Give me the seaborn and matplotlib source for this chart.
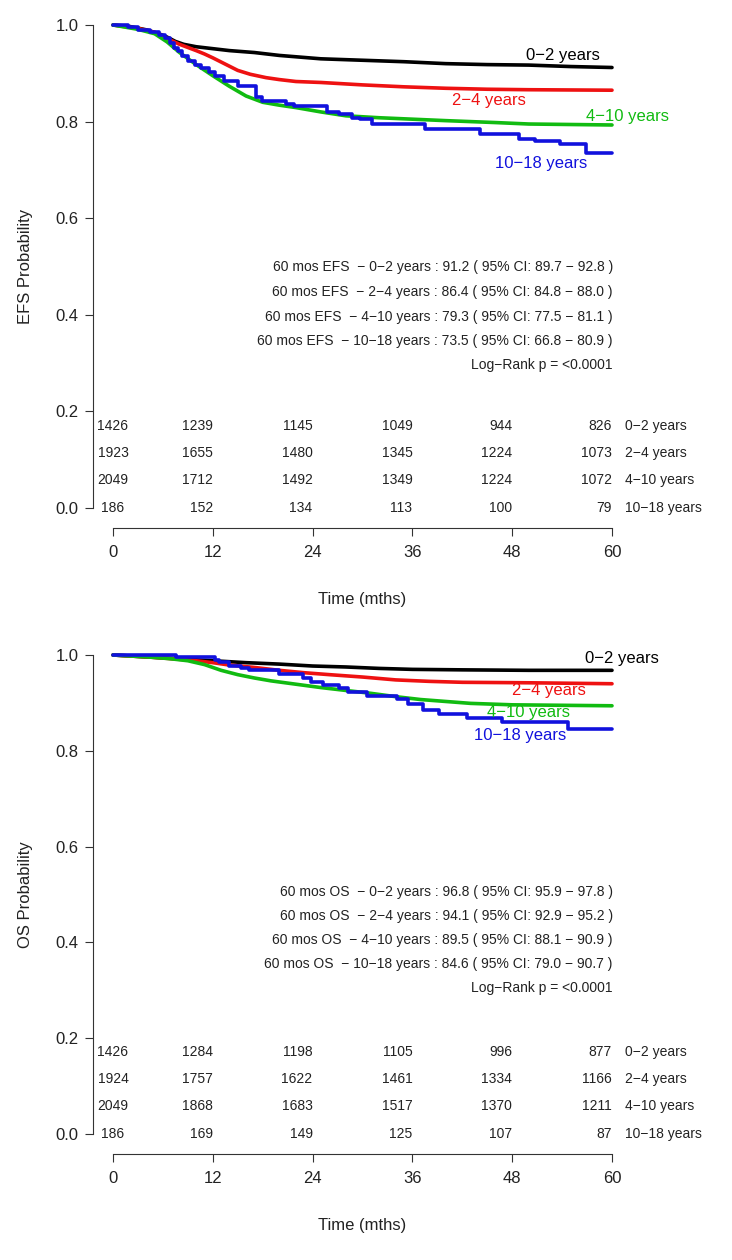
import numpy as np
import pandas as pd
import matplotlib
matplotlib.use("Agg")
import matplotlib.pyplot as plt
import seaborn as sns

# ---------------- data ----------------
groups = ["0−2 years", "2−4 years", "4−10 years", "10−18 years"]
colors = ["#000000", "#ee1111", "#11bb11", "#1111dd"]

# EFS curves (time in months, survival probability)
efs_t_02 = [0, 2, 4, 5.5, 6.5, 7.5, 8.5, 10, 12, 14, 17, 20, 25, 30, 35, 40, 45, 50, 55, 60]
efs_s_02 = [1.0, 0.997, 0.99, 0.982, 0.975, 0.966, 0.96, 0.955, 0.951, 0.947, 0.943, 0.937,
            0.93, 0.927, 0.924, 0.92, 0.918, 0.917, 0.914, 0.912]
efs_t_24 = [0, 3, 5, 6.5, 8, 10, 11, 12, 13.5, 15, 16.5, 18.4, 20, 22, 25, 30, 35, 40, 45, 50, 60]
efs_s_24 = [1.0, 0.993, 0.985, 0.972, 0.96, 0.947, 0.94, 0.932, 0.919, 0.906, 0.898, 0.891,
            0.887, 0.883, 0.881, 0.876, 0.872, 0.869, 0.867, 0.866, 0.865]
efs_t_410 = [0, 3, 5, 6.5, 8, 10, 12, 14, 16, 18, 20, 22, 25, 28, 32, 36, 40, 46, 50, 60]
efs_s_410 = [1.0, 0.991, 0.982, 0.965, 0.943, 0.918, 0.895, 0.873, 0.853, 0.84, 0.834, 0.829,
             0.82, 0.812, 0.808, 0.805, 0.802, 0.798, 0.795, 0.793]
efs_t_1018 = [0, 1.8, 3.0, 4.5, 5.5, 6.2, 6.8, 7.3, 7.8, 8.3, 9.0, 9.8, 10.6, 11.5, 12.3, 13.3,
              15.0, 17.2, 17.9, 20.8, 21.8, 25.7, 27.2, 28.7, 29.7, 31.1, 37.5, 44.1, 48.8,
              50.7, 53.7, 56.9, 60]
efs_s_1018 = [1.0, 0.995, 0.99, 0.985, 0.979, 0.973, 0.963, 0.952, 0.946, 0.936, 0.926, 0.918,
              0.91, 0.902, 0.895, 0.885, 0.874, 0.85, 0.843, 0.837, 0.833, 0.819, 0.815, 0.808,
              0.805, 0.795, 0.784, 0.774, 0.764, 0.76, 0.753, 0.736, 0.736]

# OS curves
os_t_02 = [0, 5, 8, 12, 16, 20, 24, 28, 32, 36, 42, 50, 60]
os_s_02 = [1.0, 0.995, 0.992, 0.988, 0.984, 0.981, 0.977, 0.975, 0.972, 0.970, 0.969, 0.968, 0.968]
os_t_24 = [0, 5, 8, 10, 12, 14, 17, 20, 23, 26, 30, 34, 38, 42, 50, 60]
os_s_24 = [1.0, 0.995, 0.991, 0.988, 0.984, 0.979, 0.974, 0.968, 0.963, 0.959, 0.954, 0.948,
           0.945, 0.943, 0.942, 0.940]
os_t_410 = [0, 5, 7, 9, 11, 13, 15, 17, 19, 22, 25, 28, 31, 34, 37, 40, 43, 48, 60]
os_s_410 = [1.0, 0.995, 0.992, 0.988, 0.98, 0.968, 0.959, 0.952, 0.946, 0.939, 0.932, 0.926,
            0.92, 0.913, 0.907, 0.903, 0.899, 0.896, 0.894]
os_t_1018 = [0, 7.6, 12.3, 12.8, 14, 15.4, 16.4, 19.9, 22.8, 23.8, 25.2, 27.2, 28.2, 30.6,
             34.1, 35.5, 37.3, 39.2, 42.6, 46.8, 54.7, 60]
os_s_1018 = [1.0, 0.995, 0.989, 0.985, 0.978, 0.972, 0.969, 0.96, 0.951, 0.944, 0.938, 0.932,
             0.923, 0.914, 0.909, 0.897, 0.886, 0.877, 0.869, 0.86, 0.846, 0.846]

# numbers at risk
risk_times = [0, 12, 24, 36, 48, 60]
efs_risk_02 = [1426, 1239, 1145, 1049, 944, 826]
efs_risk_24 = [1923, 1655, 1480, 1345, 1224, 1073]
efs_risk_410 = [2049, 1712, 1492, 1349, 1224, 1072]
efs_risk_1018 = [186, 152, 134, 113, 100, 79]
os_risk_02 = [1426, 1284, 1198, 1105, 996, 877]
os_risk_24 = [1924, 1757, 1622, 1461, 1334, 1166]
os_risk_410 = [2049, 1868, 1683, 1517, 1370, 1211]
os_risk_1018 = [186, 169, 149, 125, 107, 87]

# 60-month estimates
efs_est = [91.2, 86.4, 79.3, 73.5]
efs_lo = [89.7, 84.8, 77.5, 66.8]
efs_hi = [92.8, 88.0, 81.1, 80.9]
os_est = [96.8, 94.1, 89.5, 84.6]
os_lo = [95.9, 92.9, 88.1, 79.0]
os_hi = [97.8, 95.2, 90.9, 90.7]
logrank_text = "Log−Rank p = <0.0001"

# ---------------- style ----------------
sns.set_theme(style="white")
plt.rcParams["font.family"] = ["Liberation Sans", "DejaVu Sans"]
plt.rcParams["axes.unicode_minus"] = True

W, H = 732, 1260
fig = plt.figure(figsize=(W / 100, H / 100), dpi=100)
ax1 = fig.add_axes([113 / W, 1 - 508 / H, 499 / W, 483 / H])
ax2 = fig.add_axes([113 / W, 1 - 1134 / H, 499 / W, 479 / H])

AX_COL = "#333333"


def panel(ax, curves, risk, est, lo, hi, endpoint, ylabel, label_pos, ann_y, row_y):
    for i, (t, s) in enumerate(curves):
        df = pd.DataFrame({"time": t, "surv": s})
        kw = dict(drawstyle="steps-post") if i == 3 else {}
        sns.lineplot(data=df, x="time", y="surv", ax=ax, color=colors[i], lw=2.6,
                     estimator=None, sort=False, legend=False, clip_on=False, **kw)
    ax.set_xlim(0, 60)
    ax.set_ylim(0, 1)
    for sp in ["top", "right"]:
        ax.spines[sp].set_visible(False)
    ax.spines["left"].set_position(("outward", 14.4))
    ax.spines["bottom"].set_position(("outward", 14.4))
    ax.spines["left"].set_bounds(0, 1)
    ax.spines["bottom"].set_bounds(0, 60)
    for sp in ["left", "bottom"]:
        ax.spines[sp].set_color(AX_COL)
        ax.spines[sp].set_linewidth(0.8)
    ax.set_xticks(risk_times)
    ax.set_yticks([0, 0.2, 0.4, 0.6, 0.8, 1.0])
    ax.set_yticklabels(["0.0", "0.2", "0.4", "0.6", "0.8", "1.0"])
    ax.tick_params(axis="both", direction="out", length=5.5, width=0.8, color=AX_COL,
                   labelsize=12, labelcolor="#222222", left=True, bottom=True)
    ax.tick_params(axis="y", pad=5)
    ax.tick_params(axis="x", pad=6.5)
    ax.set_xlabel("Time (mths)", fontsize=12, color="#222222", va="center")
    ax.xaxis.set_label_coords(0.5, -0.19)
    ax.set_ylabel(ylabel, fontsize=12, color="#222222", va="center")
    ax.yaxis.set_label_coords(-0.176, 0.5)

    # curve labels
    for i, (lt, lv) in enumerate(label_pos):
        ax.text(lt, lv, groups[i], color=colors[i], fontsize=12, ha="center", va="center",
                clip_on=False)

    # estimates
    for i in range(4):
        txt = f"60 mos {endpoint}  − {groups[i]} : {est[i]:.1f} ( 95% CI: {lo[i]:.1f} − {hi[i]:.1f} )"
        ax.text(60.1, ann_y[i], txt, fontsize=10, ha="right", va="center", color="#222222")
    ax.text(60.1, ann_y[4], logrank_text, fontsize=10, ha="right", va="center", color="#222222")

    # numbers at risk
    for i in range(4):
        for j, tt in enumerate(risk_times):
            ax.text(tt, row_y[i], str(risk[i][j]), fontsize=10, color="#222222",
                    ha="center" if j == 0 else "right", va="center", clip_on=False)
        ax.text(61.6, row_y[i], groups[i], fontsize=10, color="#222222", ha="left",
                va="center", clip_on=False)


panel(ax1,
      [(efs_t_02, efs_s_02), (efs_t_24, efs_s_24), (efs_t_410, efs_s_410), (efs_t_1018, efs_s_1018)],
      [efs_risk_02, efs_risk_24, efs_risk_410, efs_risk_1018],
      efs_est, efs_lo, efs_hi, "EFS", "EFS Probability",
      [(54.1, 0.936), (45.2, 0.843), (61.9, 0.81), (51.5, 0.714)],
      [0.499, 0.447, 0.395, 0.346, 0.296],
      [0.17, 0.113, 0.057, 0.0])

panel(ax2,
      [(os_t_02, os_s_02), (os_t_24, os_s_24), (os_t_410, os_s_410), (os_t_1018, os_s_1018)],
      [os_risk_02, os_risk_24, os_risk_410, os_risk_1018],
      os_est, os_lo, os_hi, "OS", "OS Probability",
      [(61.2, 0.992), (52.4, 0.925), (49.9, 0.879), (49.0, 0.831)],
      [0.505, 0.455, 0.405, 0.355, 0.305],
      [0.172, 0.115, 0.058, 0.0])

fig.savefig("out.png", dpi=100)
